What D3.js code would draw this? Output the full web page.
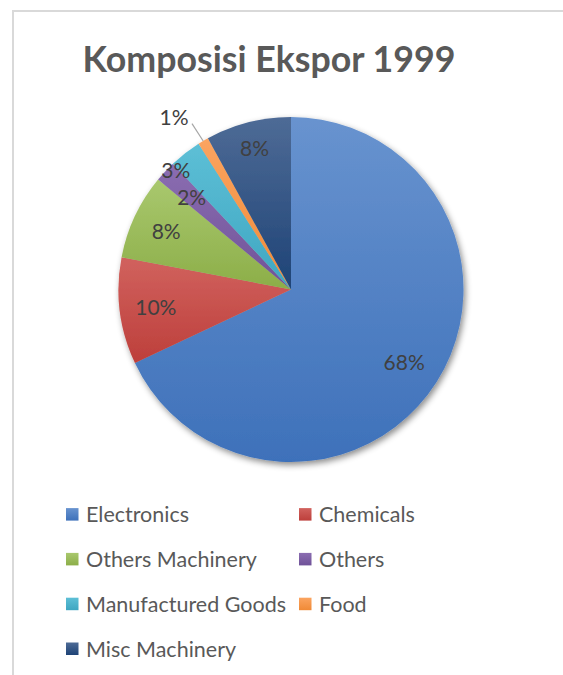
<!DOCTYPE html>
<html>
<head>
<meta charset="utf-8">
<script src="https://cdn.jsdelivr.net/npm/d3@7"></script>
<style>
  html, body { margin: 0; padding: 0; background: #ffffff; }
  svg { display: block; }
</style>
</head>
<body>
<svg id="chart" width="563" height="675"></svg>
<script>
// ---- data ----
const title = "Komposisi Ekspor 1999";
const categories = ["Electronics", "Chemicals", "Others Machinery", "Others", "Manufactured Goods", "Food", "Misc Machinery"];
const values = [68, 10, 8, 2, 3, 1, 8];
const colorsTop = ["#6893cf", "#d1625e", "#a9c86e", "#8b6db1", "#5dbfd6", "#fba460", "#4e6b96"];
const colorsBottom = ["#3e71ba", "#bd3f3b", "#8cae48", "#6f5298", "#3ea6c1", "#f08a36", "#1e4376"];

// ---- layout config (not data) ----
const W = 563, H = 675;
const cx = 291, cy = 289.5, R = 172.5;
const labelK = [0.777, 0.79, 0.80, 0.79, 0.965, 1.21, 0.85];
const labelAngleShift = [0, 0, 0, 0, -6, -3.5, 0];

const svg = d3.select("#chart");
const defs = svg.append("defs");

// frame
svg.append("rect").attr("x", 13).attr("y", 11).attr("width", 700).attr("height", 800)
  .attr("fill", "#ffffff").attr("stroke", "#d9d9d9").attr("stroke-width", 2);

// gradients
categories.forEach((c, i) => {
  const g = defs.append("linearGradient").attr("id", "grad" + i)
    .attr("x1", 0).attr("y1", 0).attr("x2", 0).attr("y2", 1);
  g.append("stop").attr("offset", "0%").attr("stop-color", colorsTop[i]);
  g.append("stop").attr("offset", "100%").attr("stop-color", colorsBottom[i]);
});

// shadow filter
const f = defs.append("filter").attr("id", "shadow")
  .attr("x", "-20%").attr("y", "-20%").attr("width", "140%").attr("height", "140%");
f.append("feDropShadow").attr("dx", 2).attr("dy", 3).attr("stdDeviation", 3)
  .attr("flood-color", "#000").attr("flood-opacity", 0.45);

// title
const titleText = svg.append("text")
  .attr("x", 269).attr("y", 71.5)
  .attr("text-anchor", "middle")
  .attr("font-family", "Lato, 'Open Sans', sans-serif")
  .attr("font-weight", "bold")
  .attr("font-size", 40)
  .attr("fill", "#595959")
  .text(title);
{
  const w = titleText.node().getComputedTextLength();
  titleText.attr("font-size", 40 * 373 / w);
}

// pie
const pie = d3.pie().sort(null).value(d => d.v);
const arcs = pie(categories.map((c, i) => ({ c, v: values[i], i })));
const arc = d3.arc().innerRadius(0).outerRadius(R);

const g = svg.append("g").attr("transform", `translate(${cx},${cy})`);
g.append("g").attr("filter", "url(#shadow)")
  .selectAll("path").data(arcs).join("path")
  .attr("d", arc)
  .attr("fill", d => `url(#grad${d.data.i})`);

// labels
const labelFont = "Lato, 'Open Sans', sans-serif";
const labels = g.append("g");
arcs.forEach((d, i) => {
  const mid = (d.startAngle + d.endAngle) / 2 + labelAngleShift[i] * Math.PI / 180;
  const rr = labelK[i] * R;
  const x = Math.sin(mid) * rr, y = -Math.cos(mid) * rr;
  labels.append("text")
    .attr("x", x).attr("y", y)
    .attr("text-anchor", "middle")
    .attr("dominant-baseline", "central")
    .attr("font-family", labelFont)
    .attr("font-size", 21)
    .attr("fill", "#404040")
    .text(values[i] + "%");
  if (labelK[i] > 1) {
    const ma = (d.startAngle + d.endAngle) / 2;
    const ex = Math.sin(ma) * R, ey = -Math.cos(ma) * R;
    labels.append("line")
      .attr("x1", x + 18).attr("y1", y + 7)
      .attr("x2", ex).attr("y2", ey)
      .attr("stroke", "#a6a6a6").attr("stroke-width", 1.2);
  }
});

// legend
const legendCols = [66, 299];
const legendRow0 = 514.3, legendRowStep = 44.8;
const leg = svg.append("g");
categories.forEach((c, i) => {
  const col = i % 2, row = Math.floor(i / 2);
  const x = legendCols[col], y = legendRow0 + row * legendRowStep;
  leg.append("rect").attr("x", x).attr("y", y - 6.2).attr("width", 12.5).attr("height", 12.5)
    .attr("fill", `url(#grad${i})`);
  leg.append("text").attr("x", x + 20).attr("y", y)
    .attr("dominant-baseline", "central")
    .attr("font-family", labelFont)
    .attr("font-size", 21.5)
    .attr("fill", "#595959")
    .text(c);
});
</script>
</body>
</html>
